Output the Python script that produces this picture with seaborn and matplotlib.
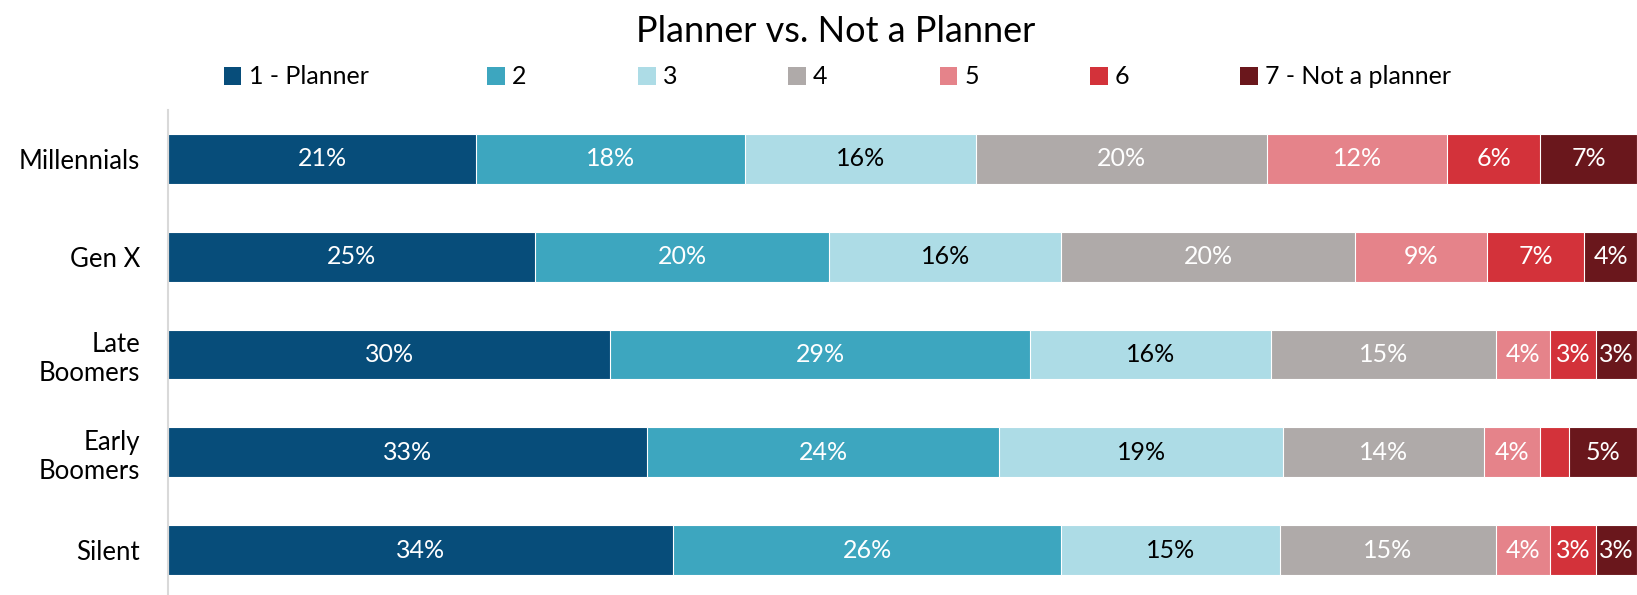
import matplotlib
matplotlib.use("Agg")
import matplotlib.pyplot as plt
import seaborn as sns
import numpy as np
import pandas as pd
from matplotlib.patches import Patch

# ---------------- data ----------------
generations = ["Millennials", "Gen X", "Late\nBoomers", "Early\nBoomers", "Silent"]
series_names = ["1 - Planner", "2", "3", "4", "5", "6", "7 - Not a planner"]
s1 = [21.0, 25.0, 30.1, 32.6, 34.4]
s2 = [18.3, 20.0, 28.6, 24.0, 26.4]
s3 = [15.7, 15.8, 16.4, 19.3, 14.9]
s4 = [19.8, 20.0, 15.3, 13.7, 14.7]
s5 = [12.3, 9.0, 3.7, 3.8, 3.7]
s6 = [6.3, 6.6, 3.1, 2.0, 3.1]
s7 = [6.6, 3.6, 2.8, 4.6, 2.8]
title = "Planner vs. Not a Planner"

colors = ["#074D7A", "#3DA6BF", "#ADDCE6", "#AFAAA9", "#E5838A", "#D3323A", "#6A171C"]
label_colors = ["white", "white", "black", "white", "white", "white", "white"]

series = [s1, s2, s3, s4, s5, s6, s7]
df = pd.DataFrame({name: vals for name, vals in zip(series_names, series)})
df["gen"] = generations
cum = df[series_names].cumsum(axis=1)
cum["gen"] = generations

# ---------------- style ----------------
sns.set_theme(style="white")
plt.rcParams["font.family"] = ["Lato", "DejaVu Sans"]
plt.rcParams["text.color"] = "black"
plt.rcParams["ytick.color"] = "black"
plt.rcParams["ytick.labelcolor"] = "black"

fig = plt.figure(figsize=(16.37, 5.95), dpi=100)
ax = fig.add_axes([168 / 1637, 0.0, 1 - 168 / 1637, 1 - 110 / 595])

# draw cumulative layers from the last series to the first
for i in range(len(series_names) - 1, -1, -1):
    sns.barplot(data=cum, y="gen", x=series_names[i], order=generations,
                orient="h", color=colors[i], width=0.51, ax=ax,
                edgecolor="white", linewidth=0.8, saturation=1)

# labels
for i, name in enumerate(series_names):
    vals = df[name].values
    ends = cum[name].values
    for j, (v, e) in enumerate(zip(vals, ends)):
        if v < 2.5:
            continue
        ax.text(e - v / 2, j, f"{int(np.floor(v + 0.5))}%",
                ha="center", va="center", color=label_colors[i],
                fontsize=18)

ax.set_xlim(0, 100)
ax.set_ylim(4.46, -0.5)
ax.set_xlabel("")
ax.set_ylabel("")
ax.set_xticks([])
ax.tick_params(axis="y", labelsize=18.5, length=0, pad=20, labelcolor="black")
for lbl in ax.get_yticklabels():
    lbl.set_horizontalalignment("right")
    lbl.set_multialignment("right")
for sp in ["top", "right", "bottom"]:
    ax.spines[sp].set_visible(False)
ax.spines["left"].set_color("#D9D9D9")
ax.spines["left"].set_linewidth(1.5)

fig.text(836 / 1637, 1 - 31 / 595, title, ha="center", va="center",
         fontsize=26, color="black")

# legend: one entry per legend box, placed like the reference
leg_x = [224, 487, 638, 788, 940, 1090, 1240]
for i, name in enumerate(series_names):
    h = Patch(facecolor=colors[i], edgecolor="none")
    leg = fig.legend(handles=[h], labels=[name], loc="center left",
                     bbox_to_anchor=(leg_x[i] / 1637, 1 - 77 / 595),
                     frameon=False, prop={"size": 18},
                     handlelength=0.7, handleheight=0.7,
                     handletextpad=0.3, borderpad=0, borderaxespad=0)
    for t in leg.get_texts():
        t.set_color("black")

fig.savefig("out.png", dpi=100)
